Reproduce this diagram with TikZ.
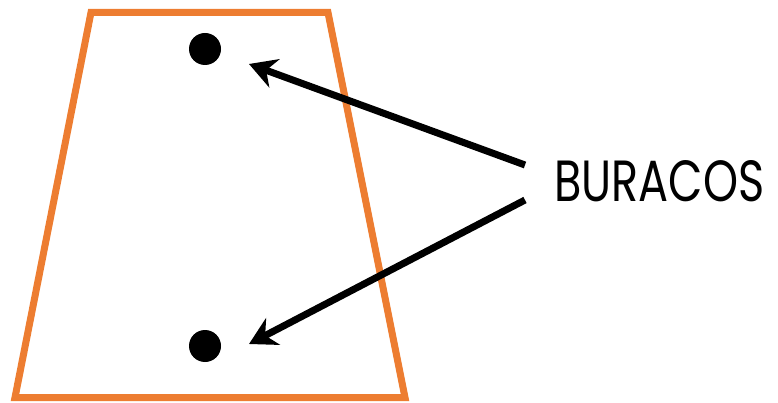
\documentclass[tikz,border=0pt]{standalone}
\usepackage{fontspec}
\usetikzlibrary{arrows.meta}
\newfontfamily\labelfont{Poppins}
\definecolor{frameorange}{HTML}{ED7D31}

\begin{document}
\begin{tikzpicture}[x=1pt, y=-1pt, >={Stealth[length=27pt, width=30pt]},
  hole/.style={circle, fill=black, inner sep=0pt, minimum size=32pt},
  pointer/.style={->, line width=7pt}]
  \useasboundingbox (0,0) rectangle (778,403);

  % Piece outline
  \draw[frameorange, line width=7pt, miter limit=20]
    (91,12.5) -- (328,12.5) -- (405,397.5) -- (15,397.5) -- cycle;

  % Holes
  \node[hole] (holeA) at (205,49) {};
  \node[hole] (holeB) at (205,346) {};

  % Label
  \node[anchor=west, inner sep=0pt] (label) at (554,181)
    {\resizebox{210pt}{41pt}{\labelfont BURACOS}};

  % Arrows
  \coordinate (tipA) at (249,64);
  \coordinate (tipB) at (249,344);
  \draw[pointer] ([xshift=-29pt, yshift=16pt]label.west) -- (tipA);
  \draw[pointer] ([xshift=-29pt, yshift=-19pt]label.west) -- (tipB);
\end{tikzpicture}
\end{document}
